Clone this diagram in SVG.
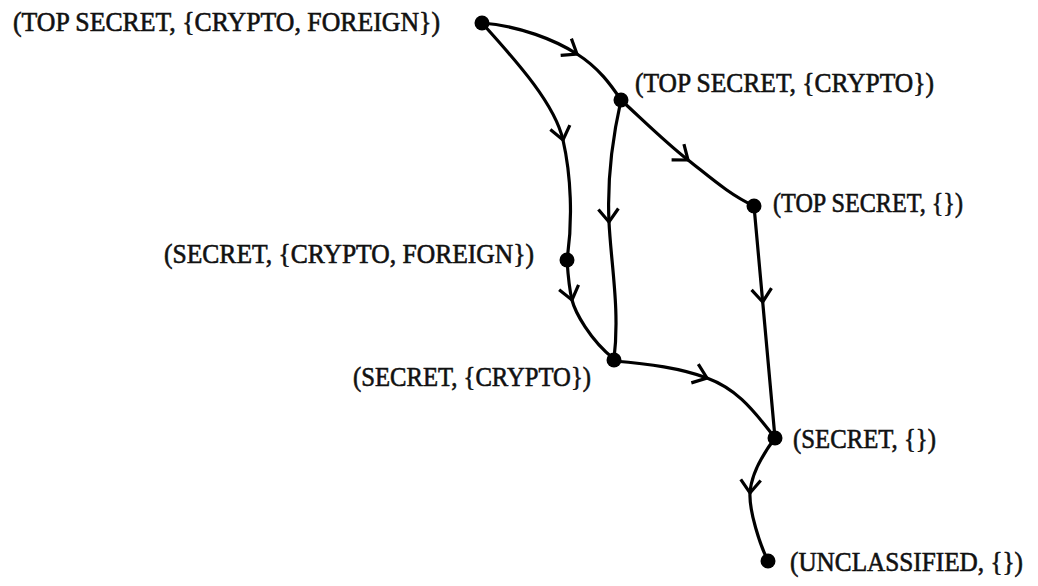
<svg xmlns="http://www.w3.org/2000/svg" width="1038" height="586" viewBox="0 0 1038 586">
<style>
.edge{fill:none;stroke:#000;stroke-width:3.2;marker-mid:url(#v)}
.dot{fill:#000}
.lbl{font-family:"Liberation Serif","DejaVu Serif",serif;font-size:27px;fill:#111;stroke:#111;stroke-width:0.6}
</style>
<defs>
<marker id="v" markerUnits="userSpaceOnUse" viewBox="-16 -13 18 26" refX="0" refY="0" markerWidth="18" markerHeight="26" orient="auto">
<path d="M-13,-10 L0,0 L-13,10" fill="none" stroke="#000" stroke-width="3.2"/>
</marker>
</defs>
<rect width="1038" height="586" fill="#fff"/>
<g id="connectors">
<path class="edge" d="M482,23 C520,26 555,40 577,54 S611,85 621,100"/>
<path class="edge" d="M482,23 C520,65 555,105 563,140 S573,220 567,260"/>
<path class="edge" d="M621,100 C612,140 607,180 609,222 S620,310 614,359"/>
<path class="edge" d="M621,100 C645,122 665,142 688,160 S730,195 754,206"/>
<path class="edge" d="M567,260 C568,275 569,288 572,300 S590,340 614,359"/>
<path class="edge" d="M614,361 C650,364 680,368 707,378 S750,405 775,438"/>
<path class="edge" d="M754,206 L762.7,302 L775,438"/>
<path class="edge" d="M775,438 C760,458 751,475 750,493 S760,545 768,561"/>
</g>
<g id="n1"><circle class="dot" cx="482" cy="23" r="7.5"/><text class="lbl" x="13" y="31" textLength="427" lengthAdjust="spacingAndGlyphs">(TOP SECRET, {CRYPTO, FOREIGN})</text></g>
<g id="n2"><circle class="dot" cx="621" cy="100" r="7.5"/><text class="lbl" x="635" y="92" textLength="299" lengthAdjust="spacingAndGlyphs">(TOP SECRET, {CRYPTO})</text></g>
<g id="n3"><circle class="dot" cx="754" cy="206" r="7.5"/><text class="lbl" x="773" y="212" textLength="190" lengthAdjust="spacingAndGlyphs">(TOP SECRET, {})</text></g>
<g id="n4"><circle class="dot" cx="567" cy="260" r="7.5"/><text class="lbl" x="164" y="263" textLength="370" lengthAdjust="spacingAndGlyphs">(SECRET, {CRYPTO, FOREIGN})</text></g>
<g id="n5"><circle class="dot" cx="614" cy="360" r="7.5"/><text class="lbl" x="353" y="386" textLength="238" lengthAdjust="spacingAndGlyphs">(SECRET, {CRYPTO})</text></g>
<g id="n6"><circle class="dot" cx="775" cy="438" r="7.5"/><text class="lbl" x="793" y="448" textLength="143" lengthAdjust="spacingAndGlyphs">(SECRET, {})</text></g>
<g id="n7"><circle class="dot" cx="768" cy="561" r="7.5"/><text class="lbl" x="790" y="571" textLength="233" lengthAdjust="spacingAndGlyphs">(UNCLASSIFIED, {})</text></g>
</svg>
